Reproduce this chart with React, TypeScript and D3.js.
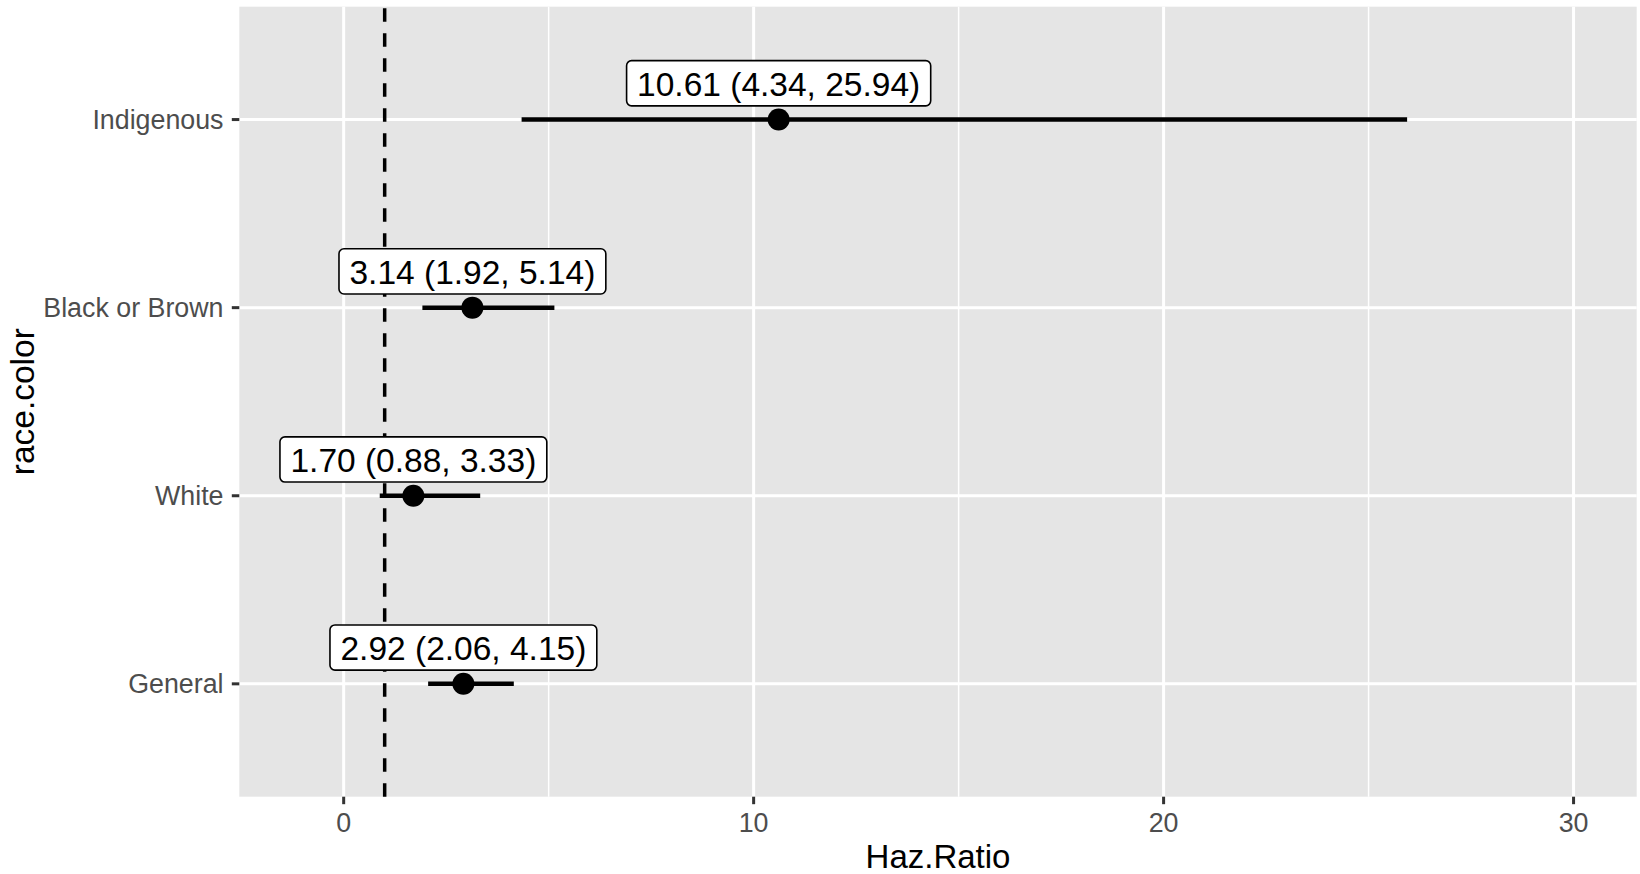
import React, { useEffect, useRef } from 'react';
import * as d3 from 'd3';

// rows, bottom to top
const categories = ['General', 'White', 'Black or Brown', 'Indigenous'];
const hazRatio = [2.92, 1.70, 3.14, 10.61];
const lowerCI = [2.06, 0.88, 1.92, 4.34];
const upperCI = [4.15, 3.33, 5.14, 25.94];
const xTicks = [0, 10, 20, 30];
const xMinor = [5, 15, 25];
const refLine = 1;

const W = 1640;
const H = 874;
const FONT = '"Liberation Sans", Arial, Helvetica, sans-serif';

const App = () => {
  const svgRef = useRef<SVGSVGElement>(null);

  useEffect(() => {
    if (!svgRef.current) return;
    const svg = d3.select(svgRef.current);
    svg.selectAll('*').remove();

    const panel = { left: 239.3, right: 1636.7, top: 6.7, bottom: 796.7 };

    const x = d3.scaleLinear().domain([-2.546, 31.54]).range([panel.left, panel.right]);
    const y = d3.scaleLinear()
      .domain([0.4, categories.length + 0.6])
      .range([panel.bottom, panel.top]);

    const rows = categories.map((c, i) => ({
      cat: c, pos: i + 1, hr: hazRatio[i], lo: lowerCI[i], hi: upperCI[i]
    }));

    // panel background
    svg.append('rect')
      .attr('x', panel.left).attr('y', panel.top)
      .attr('width', panel.right - panel.left).attr('height', panel.bottom - panel.top)
      .attr('fill', '#E5E5E5');

    // minor grid
    svg.selectAll('line.minor').data(xMinor).enter().append('line')
      .attr('x1', d => x(d)).attr('x2', d => x(d))
      .attr('y1', panel.top).attr('y2', panel.bottom)
      .attr('stroke', '#fff').attr('stroke-width', 1.5);

    // major grid
    svg.selectAll('line.majx').data(xTicks).enter().append('line')
      .attr('x1', d => x(d)).attr('x2', d => x(d))
      .attr('y1', panel.top).attr('y2', panel.bottom)
      .attr('stroke', '#fff').attr('stroke-width', 3);
    svg.selectAll('line.majy').data(rows).enter().append('line')
      .attr('x1', panel.left).attr('x2', panel.right)
      .attr('y1', d => y(d.pos)).attr('y2', d => y(d.pos))
      .attr('stroke', '#fff').attr('stroke-width', 3);

    // reference line (drawn bottom-up so the dash pattern starts at the axis)
    svg.append('line')
      .attr('x1', x(refLine)).attr('x2', x(refLine))
      .attr('y1', panel.bottom).attr('y2', panel.top)
      .attr('stroke', '#000').attr('stroke-width', 3.5)
      .attr('stroke-dasharray', '13.5 11.5');

    // CI bars
    svg.selectAll('line.ci').data(rows).enter().append('line')
      .attr('x1', d => x(d.lo)).attr('x2', d => x(d.hi))
      .attr('y1', d => y(d.pos)).attr('y2', d => y(d.pos))
      .attr('stroke', '#000').attr('stroke-width', 4.5);

    // points
    svg.selectAll('circle.pt').data(rows).enter().append('circle')
      .attr('cx', d => x(d.hr)).attr('cy', d => y(d.pos))
      .attr('r', 11).attr('fill', '#000');

    // labels
    const fs = 33.5;
    const labels = svg.selectAll('g.lab').data(rows).enter().append('g')
      .attr('transform', d => `translate(${x(d.hr)},${y(d.pos + 0.193)})`);
    const rects = labels.append('rect');
    const texts = labels.append('text')
      .attr('text-anchor', 'middle')
      .attr('y', fs * 0.37)
      .attr('font-family', FONT)
      .attr('font-size', fs)
      .attr('fill', '#000')
      .text(d => `${d.hr.toFixed(2)} (${d.lo.toFixed(2)}, ${d.hi.toFixed(2)})`);
    texts.each(function (_d, i) {
      const w = (this as SVGTextElement).getComputedTextLength();
      d3.select(rects.nodes()[i])
        .attr('x', -w / 2 - 10.5).attr('y', -22.6)
        .attr('width', w + 21).attr('height', 45.2)
        .attr('rx', 5).attr('ry', 5)
        .attr('fill', '#fff').attr('stroke', '#000').attr('stroke-width', 1.6);
    });

    // x axis ticks + labels
    svg.selectAll('line.xt').data(xTicks).enter().append('line')
      .attr('x1', d => x(d)).attr('x2', d => x(d))
      .attr('y1', panel.bottom).attr('y2', panel.bottom + 7.5)
      .attr('stroke', '#333').attr('stroke-width', 3);
    svg.selectAll('text.xl').data(xTicks).enter().append('text')
      .attr('x', d => x(d)).attr('y', 832)
      .attr('text-anchor', 'middle')
      .attr('font-family', FONT).attr('font-size', 26.8)
      .attr('fill', '#4D4D4D')
      .text(d => d);

    // y axis ticks + labels
    svg.selectAll('line.yt').data(rows).enter().append('line')
      .attr('x1', panel.left - 7.5).attr('x2', panel.left)
      .attr('y1', d => y(d.pos)).attr('y2', d => y(d.pos))
      .attr('stroke', '#333').attr('stroke-width', 3);
    svg.selectAll('text.yl').data(rows).enter().append('text')
      .attr('x', 223.5).attr('y', d => y(d.pos) + 26.8 * 0.36)
      .attr('text-anchor', 'end')
      .attr('font-family', FONT).attr('font-size', 26.8)
      .attr('fill', '#4D4D4D')
      .text(d => d.cat);

    // axis titles
    svg.append('text')
      .attr('x', (panel.left + panel.right) / 2).attr('y', 868)
      .attr('text-anchor', 'middle')
      .attr('font-family', FONT).attr('font-size', 33)
      .attr('fill', '#000')
      .text('Haz.Ratio');
    svg.append('text')
      .attr('transform', `translate(34,${(panel.top + panel.bottom) / 2}) rotate(-90)`)
      .attr('text-anchor', 'middle')
      .attr('font-family', FONT).attr('font-size', 33.5)
      .attr('fill', '#000')
      .text('race.color');
  }, []);

  return (
    <svg
      ref={svgRef}
      width={W}
      height={H}
      style={{ position: 'absolute', left: 0, top: 0, background: '#fff' }}
    />
  );
};

export default App;
